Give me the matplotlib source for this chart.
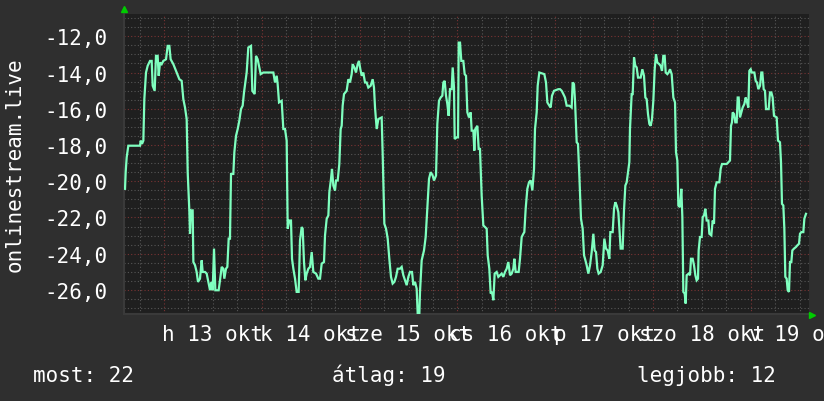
import matplotlib
matplotlib.use("Agg")
import matplotlib.pyplot as plt
from matplotlib.ticker import FuncFormatter
from matplotlib.lines import Line2D
import numpy as np

plt.rcParams['font.family'] = ['DejaVu Sans Mono']
plt.rcParams['axes.unicode_minus'] = False

# hours relative to 13 okt 00:00, and measured values
hours = [
    -9.57, -9.41, -9.16, -8.76, -5.89, -5.73, -5.40, -5.07, -4.83, -4.42, -4.01, -3.44, -3.03, -2.78, -2.29,
    -1.97, -1.56, -1.31, -0.98, -0.58, -0.17, 0.49, 0.90, 1.31, 1.63, 2.29, 3.11, 3.76, 4.33, 4.74, 5.15, 5.56,
    5.81, 6.21, 6.38, 6.62, 7.03, 7.20, 7.61, 8.01, 8.34, 8.83, 9.24, 9.49, 10.06, 10.47, 10.88, 11.29, 11.61,
    11.94, 12.27, 12.59, 13.41, 13.74,
    14.15, 14.56, 14.80, 15.21, 15.54, 15.87, 16.19, 16.44, 17.01, 17.26, 17.67, 18.08, 18.48, 18.89, 19.30,
    19.63, 19.96, 20.28, 20.69, 21.35, 21.67, 22.25, 22.57, 22.98, 23.31, 23.72, 24.37, 26.83, 27.24, 27.65,
    27.89, 28.22, 28.87, 29.28, 29.69, 30.10, 30.35, 30.75, 31.16, 31.41, 31.74, 32.15, 32.55, 33.04, 33.37,
    33.78, 34.03, 34.35, 34.68, 35.01, 35.42, 35.83, 36.24, 36.64, 37.30, 37.87, 38.28, 38.69, 39.26,
    39.51, 39.92, 40.33, 40.57, 40.98, 41.22, 41.55, 41.96, 42.21, 42.62, 43.02, 43.35, 43.60, 43.84, 44.17,
    44.82, 45.23, 45.64, 46.05, 46.30, 46.71, 47.11, 47.52, 47.85, 48.18, 48.51, 48.91, 49.32, 49.73, 50.14,
    50.71, 51.20, 51.53, 51.78, 52.19, 52.60, 53.41, 53.66, 54.07, 54.48, 54.89, 55.29, 55.70, 56.11, 56.52,
    56.93, 57.34, 57.91, 58.32, 58.73, 59.14, 59.55, 59.96, 60.37, 60.86, 61.18, 61.59, 62.00, 62.25, 62.66,
    62.82, 63.23,
    63.80, 64.21, 64.62, 65.03, 65.44, 65.93, 66.26, 66.75, 67.07, 67.48, 67.89, 68.30, 68.55, 68.87, 69.20,
    69.53, 69.85, 70.18, 70.59, 70.84, 71.16, 71.33, 71.82, 72.15, 72.31, 72.64, 72.96, 73.45, 73.78, 74.11,
    74.44, 74.84, 75.25, 75.50, 75.91, 76.15, 76.40, 76.89, 77.22, 77.54, 77.95, 78.36, 78.77, 79.18, 79.43,
    79.83, 80.16, 80.49, 80.82, 81.14, 81.63, 82.04, 82.45, 82.86, 83.27, 83.68, 84.09, 84.50, 84.91, 85.32,
    85.72, 85.97, 86.30, 87.03, 87.36, 87.77, 88.18,
    88.42, 88.75, 89.16, 89.57, 89.98, 90.39, 90.80, 91.04, 91.45, 91.70, 92.10, 93.33, 93.74, 94.07, 94.56,
    94.89, 95.21, 95.70, 96.77, 97.18, 97.59, 98.00, 98.40, 98.81, 99.47, 100.04, 100.28, 100.61, 100.86,
    101.27, 101.59, 101.92, 102.33, 102.74, 103.07, 103.31, 103.72, 104.13, 104.54, 104.95, 105.36, 105.68,
    106.01, 106.34, 106.66, 107.16, 107.65, 108.06, 108.46, 108.87, 109.28, 109.53, 110.10, 110.43, 110.75,
    111.08, 111.49, 111.74, 112.06, 112.55,
    112.88, 113.21, 113.54, 113.86, 114.19, 114.35, 114.76, 115.01, 115.34, 115.66, 115.99, 116.32, 116.97,
    117.38, 117.79, 118.12, 118.44, 118.77, 119.10, 119.43, 119.75, 120.08, 120.41, 120.73, 121.06, 121.55,
    121.88, 122.21, 122.53, 122.86, 123.11, 123.52, 123.84, 124.17, 124.58, 124.99, 125.40, 125.64, 125.97,
    126.22, 126.62, 126.95, 127.20, 127.44, 127.77, 128.01, 128.26, 128.75, 129.08, 129.32, 129.73, 130.06,
    130.39, 130.71, 131.04, 131.20, 131.53, 131.94, 132.19, 132.52, 132.84, 133.17, 133.58, 133.82, 134.31,
    134.64, 134.97, 135.21, 135.62, 136.28, 136.60, 136.93, 137.67,
    138.08, 138.49, 138.89, 139.14, 139.38, 139.55, 139.88, 140.20, 140.53, 140.78, 141.02, 141.35, 141.68,
    142.00, 142.41, 142.74, 142.98, 143.39, 143.64, 143.97, 144.21, 144.87, 145.19, 145.52, 145.85, 146.26,
    146.58, 146.83, 147.16, 147.48, 147.73, 148.38, 148.71, 149.04, 149.36, 149.69, 150.35, 150.67, 151.16,
    151.41, 151.65, 151.98, 152.23, 152.47, 152.80, 153.05, 153.37, 153.62, 153.95, 154.19, 154.60, 155.09,
    155.42, 155.83, 156.07, 156.40, 156.89, 157.14, 157.54,
]

values = [
    -20.42, -19.50, -18.68, -18.04, -18.04, -17.76, -17.94, -17.76, -15.47, -14.00, -13.63, -13.36, -13.36, -14.73, -15.01,
    -13.08, -13.08, -14.18, -13.45, -13.54, -13.36, -13.27, -12.53, -12.53, -13.27, -13.54, -14.00, -14.37, -14.46, -15.47, -15.93, -16.57,
    -19.50, -21.61, -22.90, -21.61, -21.61, -24.46, -24.64, -25.01, -25.56, -25.38, -24.37, -25.01, -25.01, -25.10, -25.56, -26.02, -25.56,
    -26.02, -23.72, -26.02, -26.02, -25.47,
    -24.73, -24.83, -25.38, -24.83, -24.73, -23.17, -23.17, -19.60, -19.60, -18.40, -17.49, -17.12, -16.66, -16.02, -15.83,
    -15.10, -14.55, -14.00, -12.62, -12.53, -15.01, -15.19, -13.08, -13.27, -13.63, -14.09, -14.00, -14.00, -14.55, -14.18,
    -14.64, -15.65, -15.56, -17.12, -17.12, -17.76, -22.62, -22.17, -22.17, -24.28, -24.83, -25.38, -26.11, -26.11, -23.27,
    -22.53, -22.62, -24.46, -25.47, -25.10, -24.83, -24.73, -23.91, -25.01, -25.10, -25.38, -25.38, -24.55, -24.46,
    -22.99, -22.07, -21.89, -20.61, -19.87, -19.32, -20.24, -20.51, -19.96, -19.96, -19.05, -17.12, -16.94, -15.83, -15.19,
    -15.01, -14.37, -14.55, -14.09, -13.54, -13.72, -14.00, -13.54, -13.36, -13.82, -14.18, -14.00, -14.55, -14.55, -14.83,
    -14.73, -14.37, -14.83, -15.93, -17.12, -16.57, -16.48, -18.50, -22.35, -22.62, -23.17, -24.28, -25.28, -25.65, -25.56,
    -25.28, -24.83, -24.83, -24.73, -25.19, -25.47, -25.74, -25.28, -25.01, -25.01, -25.74, -25.56, -25.93, -27.30, -27.30,
    -26.11, -24.37,
    -23.82, -23.08, -21.52, -19.87, -19.50, -19.69, -19.96, -19.69, -16.84, -15.56, -15.38, -15.28, -14.55, -14.46, -15.28,
    -15.74, -16.39, -14.92, -14.92, -13.72, -14.83, -17.67, -17.58, -17.58, -12.35, -12.35, -13.36, -13.36, -14.09, -14.18,
    -16.20, -16.48, -16.20, -17.21, -17.21, -18.31, -17.12, -16.94, -18.22, -18.22, -20.79, -22.44, -22.53, -22.62, -24.09,
    -24.83, -26.20, -26.11, -26.57, -25.10, -25.01, -25.28, -25.19, -25.10, -25.28, -25.01, -24.83, -24.46, -25.19, -25.10,
    -24.83, -24.28, -25.01, -25.01, -24.28, -23.08, -22.90,
    -22.81, -21.52, -20.42, -20.06, -19.96, -20.51, -19.32, -17.12, -16.20, -14.73, -14.00, -14.09, -14.55, -15.65, -15.83,
    -15.93, -15.28, -15.01, -14.92, -14.92, -15.01, -15.19, -15.38, -15.83, -15.83, -15.93, -14.55, -14.64, -15.56,
    -17.85, -17.94, -19.69, -22.07, -22.62, -24.09, -24.28, -24.64, -25.10, -24.64, -23.91, -22.90, -23.82,
    -23.91, -24.83, -25.10, -25.01, -24.64, -23.17, -23.72, -23.82, -24.28, -22.81, -22.81, -21.52, -21.16,
    -21.34, -21.71, -22.62, -23.72, -23.72,
    -21.61, -20.24, -20.06, -19.50, -18.95, -17.12, -15.19, -15.19, -13.17, -13.63, -13.72, -14.28, -14.28,
    -13.82, -14.18, -15.38, -15.47, -16.29, -16.84, -16.94, -16.57, -15.56, -13.82, -12.99, -13.45, -13.54,
    -13.63, -13.91, -13.08, -13.08, -14.00, -14.09, -14.00, -13.82, -14.09, -15.38, -15.65, -18.40, -18.86,
    -21.34, -21.43, -20.42, -21.98, -26.11, -26.20, -26.75, -25.19, -25.10, -25.19, -24.28, -24.28, -24.64,
    -25.19, -25.47, -25.38, -23.82, -23.08, -23.08, -21.98, -21.89, -21.52, -22.17, -22.17, -22.90, -22.99,
    -22.17, -22.35, -20.42, -20.06, -20.06, -19.32, -19.05, -19.05,
    -19.05, -18.95, -18.86, -16.94, -16.75, -16.20, -16.29, -16.75, -16.75, -15.38, -15.38, -16.48, -16.20,
    -15.93, -15.74, -15.38, -15.56, -15.93, -13.91, -13.82, -14.00, -14.00, -14.46, -14.55, -14.92, -14.73,
    -14.00, -14.00, -14.92, -15.01, -16.02, -16.02, -15.10, -15.10, -15.38, -16.39, -16.48, -17.76, -17.85,
    -18.95, -21.25, -21.34, -22.62, -25.28, -25.38, -26.02, -26.11, -24.46, -24.46, -23.82, -23.72, -23.63,
    -23.54, -23.45, -22.90, -22.81, -22.81, -22.07, -21.80,
]

day_labels = ["h 13 okt", "k 14 okt", "sze 15 okt", "cs 16 okt", "p 17 okt", "szo 18 okt", "v 19 okt"]
y_ticks = [-26, -24, -22, -20, -18, -16, -14, -12]
series_name = "onlinestream.live"
summary = [("most:", 22), ("átlag:", 19), ("legjobb:", 12)]

BG = "#2f2f2f"
PLOT_BG = "#1f1f1f"
LINE = "#7fffbf"
MINOR = "#575757"
MAJOR = "#7a3434"
TXT = "#ffffff"

fig = plt.figure(figsize=(8.24, 4.02), dpi=100, facecolor=BG)
W, H = 824, 402
L, R, T, B = 124, 809, 15, 315
ax = fig.add_axes([L / W, 1 - B / H, (R - L) / W, (B - T) / H])
ax.set_facecolor(PLOT_BG)

xmin, xmax = -9.82, 158.28
ymin, ymax = -27.33, -10.77
ax.set_xlim(xmin, xmax)
ax.set_ylim(ymin, ymax)

dot = (0, (1, 2))
for yy in np.arange(-27.0, -10.5, 0.5):
    major = abs(yy / 2 - round(yy / 2)) < 1e-6
    ax.axhline(yy, color=MAJOR if major else MINOR, lw=0.8, ls=dot, zorder=1)
for xx in np.arange(-6, 160, 6):
    major = xx % 24 == 0
    ax.axvline(xx, color=MAJOR if major else MINOR, lw=0.8, ls=dot, zorder=1)

ax.plot(hours, values, color=LINE, lw=1.6, zorder=3, solid_joinstyle='miter')

ax.set_yticks(y_ticks)
ax.yaxis.set_major_formatter(FuncFormatter(lambda v, p: f"{v:.1f}".replace(".", ",")))
noon = [12 + 24 * i for i in range(len(day_labels))]
ax.set_xticks(noon)
ax.set_xticklabels(day_labels)
ax.tick_params(axis='both', length=0, colors=TXT, labelsize=15)
ax.tick_params(axis='y', pad=12)
ax.tick_params(axis='x', pad=7)

for s in ['top', 'right']:
    ax.spines[s].set_visible(False)
for s in ['left', 'bottom']:
    ax.spines[s].set_color("#3a3a3a")
    ax.spines[s].set_linewidth(1.5)

fig.text(15 / W, 1 - 165 / H, series_name, rotation=90, color=TXT, fontsize=15,
         ha='center', va='center')

xs = [33, 332, 637]
for (lab, val), px in zip(summary, xs):
    fig.text(px / W, 1 - 382 / H, f"{lab} {val}", color=TXT, fontsize=15, ha='left', va='baseline')

fig.add_artist(Line2D([L / W], [1 - 10 / H], marker='^', color='#00cc00', markersize=4,
                      transform=fig.transFigure, linestyle='none'))
fig.add_artist(Line2D([(R + 3) / W], [1 - 316 / H], marker='>', color='#00cc00', markersize=4,
                      transform=fig.transFigure, linestyle='none'))

fig.savefig("out.png", dpi=100, facecolor=BG)
